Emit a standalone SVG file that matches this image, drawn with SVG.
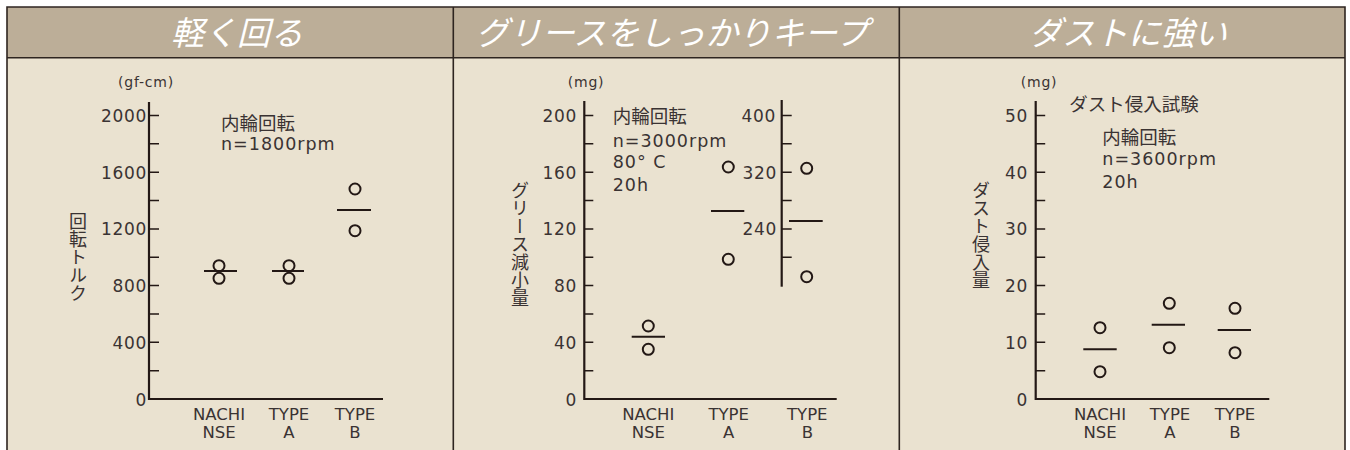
<svg xmlns="http://www.w3.org/2000/svg" width="1350" height="450" viewBox="0 0 1350 450">
<style>
.hdr{fill:#bcae98}
.bodyf{fill:#eae2d0}
.frame{stroke:#2e2520;stroke-width:1.6;fill:none}
.axis{stroke:#231815;stroke-width:2.2;fill:none}
.tick{stroke:#231815;stroke-width:1.5;fill:none}
.mean{stroke:#231815;stroke-width:2;fill:none}
.pt{fill:none;stroke:#231815;stroke-width:2}
.num{font-family:"DejaVu Sans","Noto Sans CJK JP",sans-serif;font-size:17px;letter-spacing:0.7px;fill:#3a3333}
.r{text-anchor:end}
.cat{font-family:"DejaVu Sans","Noto Sans CJK JP",sans-serif;font-size:16.5px;fill:#3a3333;text-anchor:middle}
.unit{font-family:"DejaVu Sans","Noto Sans CJK JP",sans-serif;font-size:14px;letter-spacing:0.8px;fill:#3a3333}
.note{font-family:"DejaVu Sans","Noto Sans CJK JP",sans-serif;font-size:17.5px;letter-spacing:1px;fill:#3a3333}
.jp{font-family:"Noto Sans CJK JP",sans-serif;font-size:18.5px;fill:#3a3333}
.vert{font-family:"Noto Sans CJK JP",sans-serif;font-size:18px;fill:#3a3333;writing-mode:vertical-rl}
.title{font-family:"Noto Sans CJK JP",sans-serif;font-size:33px;font-style:italic;fill:#ffffff;text-anchor:middle}
</style>
<g id="frame">
<rect class="bodyf" x="7" y="57.7" width="1338" height="400"/>
<rect class="hdr" x="7" y="7" width="1338" height="50.7"/>
<path class="frame" d="M7,460V7H1345V460M7,57.7H1345M453.3,7V460M899.3,7V460"/>
</g>

<g id="panel1">
<text class="title" x="237" y="45">軽く回る</text>
<text class="unit" x="118" y="87">(gf-cm)</text>
<text class="vert" x="78" y="212">回転トルク</text>
<text class="jp" x="221" y="129.5">内輪回転</text>
<text class="note" x="221" y="150">n=1800rpm</text>
<path class="axis" d="M149,102V399H383"/>
<path class="tick" d="M149,115.5h10M149,143.85h10M149,172.2h10M149,200.55h10M149,228.9h10M149,257.25h10M149,285.6h10M149,313.95h10M149,342.3h10M149,370.65h10"/>
<text class="num r" x="147" y="122">2000</text>
<text class="num r" x="147" y="178.7">1600</text>
<text class="num r" x="147" y="235.4">1200</text>
<text class="num r" x="147" y="292.1">800</text>
<text class="num r" x="147" y="348.8">400</text>
<text class="num r" x="147" y="405.5">0</text>
<text class="cat" x="219" y="420">NACHI</text>
<text class="cat" x="219" y="437.5">NSE</text>
<text class="cat" x="289" y="420">TYPE</text>
<text class="cat" x="289" y="437.5">A</text>
<text class="cat" x="355" y="420">TYPE</text>
<text class="cat" x="355" y="437.5">B</text>
</g>

<g id="panel2">
<text class="title" x="672" y="45">グリースをしっかりキープ</text>
<text class="unit" x="567.7" y="87">(mg)</text>
<text class="vert" x="520" y="181">グリース減小量</text>
<text class="jp" x="612.7" y="122.7">内輪回転</text>
<text class="note" x="612.7" y="146.5">n=3000rpm</text>
<text class="note" x="612.7" y="168.3">80° C</text>
<text class="note" x="612.7" y="190.5">20h</text>
<path class="axis" d="M584.3,101V399H836.7"/>
<path class="tick" d="M584.3,115.5h9M584.3,143.85h9M584.3,172.2h9M584.3,200.55h9M584.3,228.9h9M584.3,257.25h9M584.3,285.6h9M584.3,313.95h9M584.3,342.3h9M584.3,370.65h9"/>
<text class="num r" x="577" y="122">200</text>
<text class="num r" x="577" y="178.7">160</text>
<text class="num r" x="577" y="235.4">120</text>
<text class="num r" x="577" y="292.1">80</text>
<text class="num r" x="577" y="348.8">40</text>
<text class="num r" x="577" y="405.5">0</text>
<path class="axis" d="M781.7,100V286.7"/>
<path class="tick" d="M781.7,115.5h10M781.7,143.85h10M781.7,172.2h10M781.7,200.55h10M781.7,228.9h10M781.7,257.25h10"/>
<text class="num r" x="776" y="122">400</text>
<text class="num r" x="777" y="178.7">320</text>
<text class="num r" x="777" y="235.4">240</text>
<text class="cat" x="648.3" y="420">NACHI</text>
<text class="cat" x="648.3" y="437.5">NSE</text>
<text class="cat" x="728.7" y="420">TYPE</text>
<text class="cat" x="728.7" y="437.5">A</text>
<text class="cat" x="807.3" y="420">TYPE</text>
<text class="cat" x="807.3" y="437.5">B</text>
</g>

<g id="panel3">
<text class="title" x="1128" y="45">ダストに強い</text>
<text class="unit" x="1020.7" y="87">(mg)</text>
<text class="vert" x="981" y="181">ダスト侵入量</text>
<text class="jp" x="1069.3" y="110.5">ダスト侵入試験</text>
<text class="jp" x="1102.3" y="143.7">内輪回転</text>
<text class="note" x="1102.3" y="164.5">n=3600rpm</text>
<text class="note" x="1102.3" y="187.5">20h</text>
<path class="axis" d="M1035.7,101V399H1269.3"/>
<path class="tick" d="M1035.7,115.5h9.5M1035.7,143.85h9.5M1035.7,172.2h9.5M1035.7,200.55h9.5M1035.7,228.9h9.5M1035.7,257.25h9.5M1035.7,285.6h9.5M1035.7,313.95h9.5M1035.7,342.3h9.5M1035.7,370.65h9.5"/>
<text class="num r" x="1028" y="122">50</text>
<text class="num r" x="1028" y="178.7">40</text>
<text class="num r" x="1028" y="235.4">30</text>
<text class="num r" x="1028" y="292.1">20</text>
<text class="num r" x="1028" y="348.8">10</text>
<text class="num r" x="1028" y="405.5">0</text>
<text class="cat" x="1100" y="420">NACHI</text>
<text class="cat" x="1100" y="437.5">NSE</text>
<text class="cat" x="1170" y="420">TYPE</text>
<text class="cat" x="1170" y="437.5">A</text>
<text class="cat" x="1235" y="420">TYPE</text>
<text class="cat" x="1235" y="437.5">B</text>
</g>

<g id="data">
<circle class="pt" cx="219" cy="265.7" r="5.5"/>
<circle class="pt" cx="219" cy="278.3" r="5.5"/>
<path class="mean" d="M204,271H237"/>
<circle class="pt" cx="289" cy="265.7" r="5.5"/>
<circle class="pt" cx="289" cy="278.3" r="5.5"/>
<path class="mean" d="M272,271H304"/>
<circle class="pt" cx="355" cy="189" r="5.5"/>
<circle class="pt" cx="355" cy="230.7" r="5.5"/>
<path class="mean" d="M337,210H371"/>

<circle class="pt" cx="648.3" cy="326" r="5.5"/>
<circle class="pt" cx="648.3" cy="349.3" r="5.5"/>
<path class="mean" d="M631.7,336.7H665"/>
<circle class="pt" cx="728.3" cy="167" r="5.5"/>
<circle class="pt" cx="728.3" cy="259.3" r="5.5"/>
<path class="mean" d="M711,211H744.3"/>
<circle class="pt" cx="806.7" cy="168.3" r="5.5"/>
<circle class="pt" cx="806.7" cy="276.7" r="5.5"/>
<path class="mean" d="M789,221H822.7"/>

<circle class="pt" cx="1100" cy="327.7" r="5.5"/>
<circle class="pt" cx="1100" cy="371.7" r="5.5"/>
<path class="mean" d="M1083.3,349.3H1116.7"/>
<circle class="pt" cx="1169.3" cy="303.3" r="5.5"/>
<circle class="pt" cx="1169.3" cy="347.7" r="5.5"/>
<path class="mean" d="M1151.7,324.7H1185"/>
<circle class="pt" cx="1235" cy="308.3" r="5.5"/>
<circle class="pt" cx="1235" cy="352.7" r="5.5"/>
<path class="mean" d="M1217.7,330H1251"/>
</g>
</svg>
